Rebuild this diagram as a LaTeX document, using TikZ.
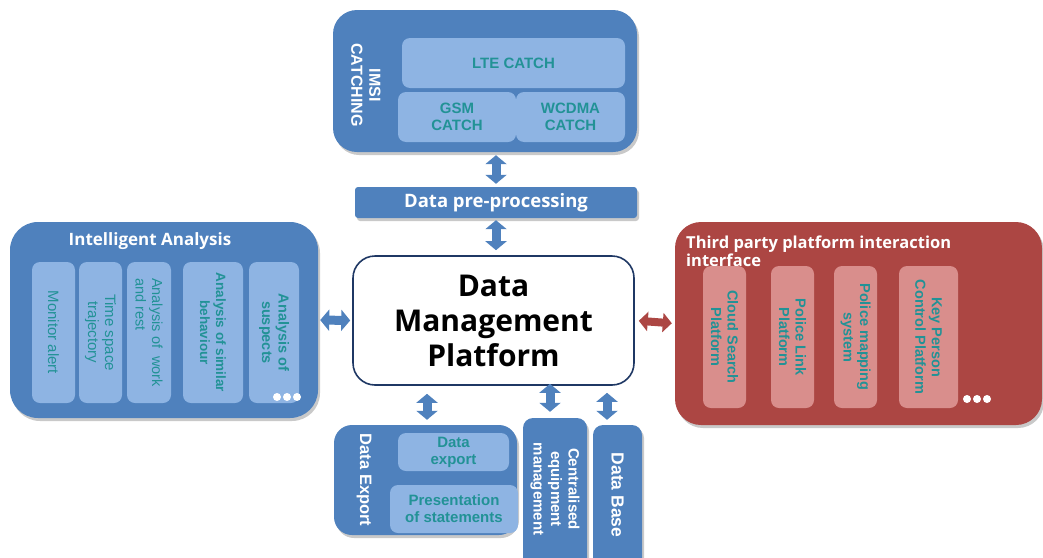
\documentclass[tikz,border=0pt]{standalone}
\usepackage{fontspec}
\setmainfont{Liberation Sans}
\newfontfamily\titlef{Open Sans}
\usetikzlibrary{arrows.meta,shadows}
\definecolor{mblue}{RGB}{79,129,189}
\definecolor{lblue}{RGB}{142,180,227}
\definecolor{mred}{RGB}{172,70,67}
\definecolor{lpink}{RGB}{217,142,140}
\definecolor{tealtxt}{RGB}{34,146,150}
\definecolor{navy}{RGB}{31,56,100}
\newcommand{\fs}[2]{\fontsize{#1}{#2}\selectfont}
\begin{document}
\begin{tikzpicture}[x=1pt,y=-1pt,
  shad/.style={drop shadow={shadow xshift=2pt,shadow yshift=-3pt,opacity=0.3,fill=black!70}},
  bigblue/.style={fill=mblue,rounded corners=24pt,inner sep=0pt,shad},
  bigred/.style={fill=mred,rounded corners=26pt,inner sep=0pt,shad},
  panel/.style={fill=lblue,rounded corners=8pt,inner sep=0pt,text=tealtxt,font=\bfseries\fs{15}{17},align=center},
  col/.style={fill=lblue,rounded corners=8pt,inner sep=0pt,text=tealtxt,align=center,rotate=-90,minimum width=141pt},
  pcol/.style={fill=lpink,rounded corners=8pt,inner sep=0pt,text=tealtxt,align=center,rotate=-90,minimum width=142pt,font=\bfseries\fs{14.5}{16.5}},
  wlab/.style={text=white,font=\bfseries\fs{16}{18},align=center,inner sep=0pt},
  barr/.style={line width=9pt,draw=mblue,{Triangle[width=21pt,length=9pt]}-{Triangle[width=21pt,length=9pt]}},
  rarr/.style={line width=8pt,draw=mred,{Triangle[width=19pt,length=9pt]}-{Triangle[width=19pt,length=9pt]}}
]
\useasboundingbox (0,0) rectangle (1043,557);

% IMSI catching
\node[bigblue,minimum width=304pt,minimum height=142pt] (imsi) at (485,81) {};
\node[panel,minimum width=223pt,minimum height=50pt] (lte) at (513.5,63) {LTE CATCH};
\node[panel,minimum width=118pt,minimum height=50pt] (gsm) at (457,117) {GSM\\CATCH};
\node[panel,minimum width=109pt,minimum height=50pt] (wcdma) at (570.5,117) {WCDMA\\CATCH};
\node[wlab,rotate=-90] (imsilab) at (366,85) {IMSI\\CATCHING};

% Data pre-processing
\node[fill=mblue,rounded corners=3pt,inner sep=0pt,minimum width=282pt,minimum height=31pt,shad,
      text=white,font=\titlef\bfseries\fs{18.5}{20}] (pre) at (496,202.5) {Data pre-processing};

% Data Management Platform
\node[fill=white,draw=navy,line width=1.6pt,rounded corners=22pt,inner sep=0pt,
      minimum width=281pt,minimum height=129pt,align=center,
      font=\titlef\bfseries\fs{30}{35}] (dmp) at (493.5,320.5) {Data\\Management\\Platform};

% Intelligent Analysis
\node[bigblue,rounded corners=28pt,minimum width=308pt,minimum height=196pt] (ia) at (164,320) {};
\node[text=white,font=\titlef\bfseries\fs{17}{19},inner sep=0pt] (iatitle) at (150,241) {Intelligent Analysis};
\node[col,minimum height=43pt,font=\fs{15}{17}] (c1) at (53.5,332.5) {Monitor alert};
\node[col,minimum height=43pt,font=\fs{15}{17}] (c2) at (100.5,332.5) {Time space\\trajectory};
\node[col,minimum height=44pt,font=\fs{14.5}{16.5},align=left] (c3) at (149,332.5) {Analysis of\ \ work\\and rest};
\node[col,minimum height=60pt,font=\bfseries\fs{13.5}{16}] (c4) at (213,332.5) {Analysis of similar\\behaviour};
\node[col,minimum height=50pt,font=\bfseries\fs{14.5}{16.5}] (c5) at (274,332.5) {Analysis of\\suspects};
\foreach \i in {0,1,2} \fill[white] (277+\i*10,397) circle (4pt);

% Third party
\node[bigred,minimum width=367pt,minimum height=203pt] (tp) at (858.5,323.5) {};
\node[text=white,font=\titlef\bfseries\fs{16.5}{18},align=left,anchor=north west,inner sep=0pt] (tptitle) at (686,236) {Third party platform interaction\\interface};
\node[pcol,minimum height=43pt] (p1) at (724.5,337) {Cloud Search\\Platform};
\node[pcol,minimum height=43pt] (p2) at (792.5,337) {Police Link\\Platform};
\node[pcol,minimum height=43pt] (p3) at (855.5,337) {Police mapping\\system};
\node[pcol,minimum height=59pt] (p4) at (928.5,337) {Key Person\\Control Platform};
\foreach \i in {0,1,2} \fill[white] (967+\i*10,399) circle (4pt);

% Data Export
\node[bigblue,rounded corners=18pt,minimum width=183pt,minimum height=110pt] (de) at (425.5,480) {};
\node[wlab,rotate=-90,font=\bfseries\fs{16.5}{18}] (delab) at (364,480) {Data Export};
\node[panel,minimum width=111pt,minimum height=38pt] (dex) at (453.5,452) {Data\\export};
\node[panel,minimum width=128pt,minimum height=48pt] (pos) at (454,509) {Presentation\\of statements};

% Centralised equipment management
\node[fill=mblue,rounded corners=10pt,inner sep=0pt,minimum width=64pt,minimum height=160pt,shad] (cem) at (555,498) {};
\node[wlab,rotate=-90,font=\bfseries\fs{15}{17.5}] (cemlab) at (555,489) {Centralised\\equipment\\management};

% Data Base
\node[fill=mblue,rounded corners=10pt,inner sep=0pt,minimum width=49pt,minimum height=150pt,shad] (db) at (617.5,500) {};
\node[wlab,rotate=-90,font=\bfseries\fs{17.5}{19}] (dblab) at (617.5,495) {Data Base};

% Connectors
\draw[barr,shorten <=3pt,shorten >=3pt] (pre.north |- imsi.south) -- (pre.north);
\draw[barr,shorten <=2pt,shorten >=5pt] (pre.south) -- (pre.south |- dmp.north);
\draw[barr,shorten <=2pt,shorten >=2pt] (ia.east) -- (dmp.west);
\draw[rarr,shorten <=4pt,shorten >=3pt] (dmp.east) -- (tp.west);
\draw[barr,shorten <=8pt,shorten >=5pt] ([xshift=-66.5pt]dmp.south) -- ([xshift=-66.5pt]dmp.south |- de.north);
\draw[barr,shorten <=-2pt,shorten >=6pt] ([xshift=-5pt]cem.north |- dmp.south) -- ([xshift=-5pt]cem.north);
\draw[barr,shorten <=7pt,shorten >=5pt] ([xshift=-10.5pt]db.north |- dmp.south) -- ([xshift=-10.5pt]db.north);
\end{tikzpicture}
\end{document}
